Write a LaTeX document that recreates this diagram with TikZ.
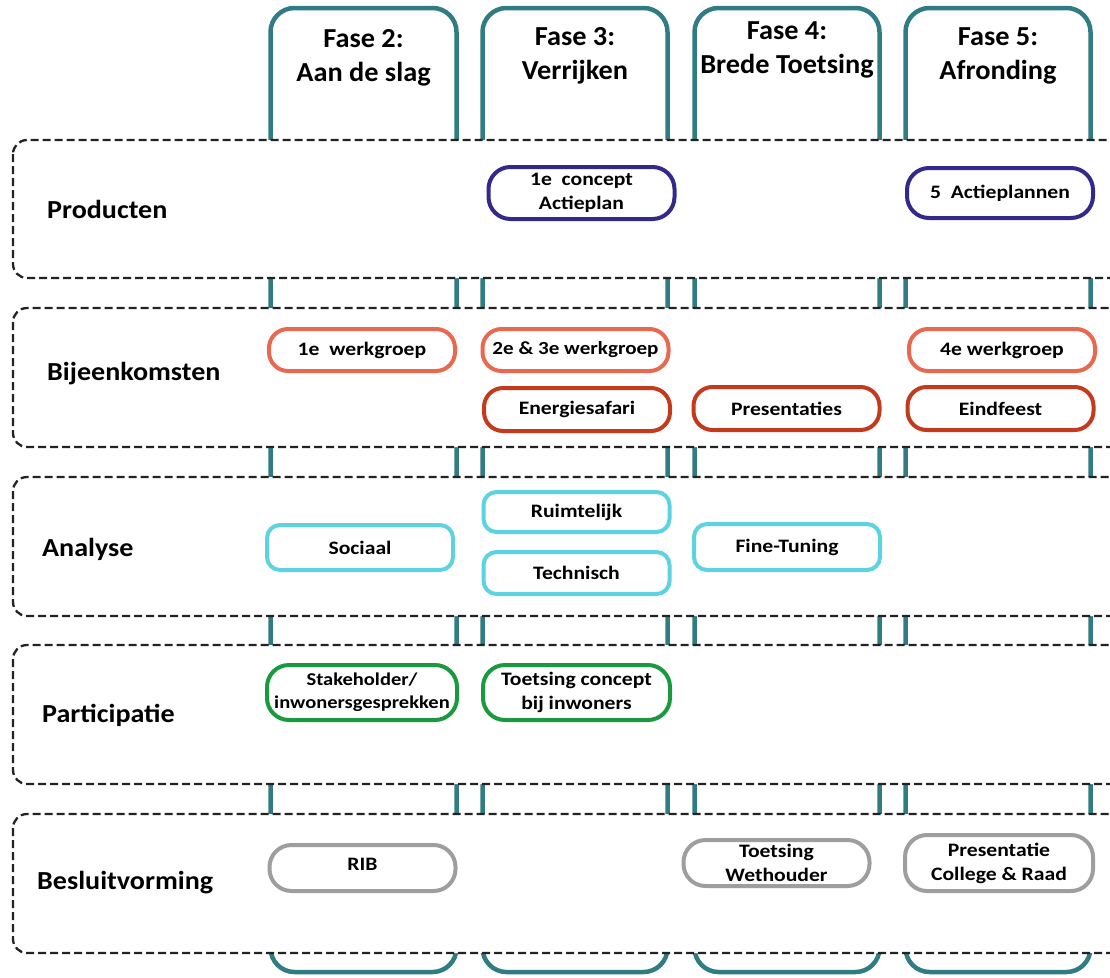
\documentclass[tikz,border=0pt]{standalone}
\usepackage{fontspec}
\setmainfont{Carlito}
\newfontfamily\boxfont[FakeStretch=1.14]{Carlito}
\newfontfamily\lblfont[FakeStretch=1.08]{Carlito}
\newfontfamily\phasefont[FakeStretch=1.03]{Carlito}
\definecolor{colTeal}{HTML}{2F7C83}
\definecolor{colNavy}{HTML}{33288C}
\definecolor{colSalmon}{HTML}{E8694F}
\definecolor{colRed}{HTML}{C53A1C}
\definecolor{colCyan}{HTML}{5DD2E2}
\definecolor{colGreen}{HTML}{1A9A3E}
\definecolor{colGrey}{HTML}{9E9E9E}
\definecolor{colDash}{HTML}{222222}
\begin{document}
\begin{tikzpicture}[x=1pt,y=-1pt,
  col/.style={draw=colTeal, line width=4.5pt, rounded corners=24pt},
  rowbox/.style={draw=colDash, fill=white, line width=2.3pt, dash pattern=on 8pt off 4pt, rounded corners=14pt},
  lbl/.style={anchor=west, font=\lblfont\bfseries\fontsize{26}{30}\selectfont, inner sep=0pt},
  phase/.style={align=center, font=\phasefont\bfseries\fontsize{27.5}{34}\selectfont, inner sep=0pt},
  box/.style={draw=#1, line width=4pt, fill=white, rounded corners=19pt, align=center, inner sep=0pt,
    font=\boxfont\bfseries\fontsize{19}{24}\selectfont, minimum width=186pt, minimum height=42pt},
]
\path[use as bounding box] (0,0) rectangle (1110,977);
\begin{scope}
\clip (0,0) rectangle (1110,977);
% phase columns
\draw[col] (270.5,8) rectangle (456.5,972);
\draw[col] (482.5,8) rectangle (667.5,972);
\draw[col] (694.5,8) rectangle (879.5,972);
\draw[col] (905.5,8) rectangle (1090.5,972);
% rows
\draw[rowbox] (13,140) rectangle (1140,278);
\draw[rowbox] (13,308) rectangle (1140,447);
\draw[rowbox] (13,477) rectangle (1140,616);
\draw[rowbox] (13,645) rectangle (1140,784);
\draw[rowbox] (13,814) rectangle (1140,953);
\end{scope}
% phase titles
\node[phase] (f2) at (363.5,58) {Fase 2:\\Aan de slag};
\node[phase] (f3) at (575,56) {Fase 3:\\Verrijken};
\node[phase] (f4) at (787,50) {Fase 4:\\Brede Toetsing};
\node[phase] (f5) at (998,56) {Fase 5:\\Afronding};
% row labels
\node[lbl] (lp) at (47,209) {Producten};
\node[lbl] (lb) at (47,374) {Bijeenkomsten};
\node[lbl] (la) at (42,549) {Analyse};
\node[lbl] (lpa) at (42,715) {Participatie};
\node[lbl] (lbv) at (37,883) {Besluitvorming};
% producten
\node[box=colNavy, minimum height=52pt, rounded corners=22pt] (c1) at (581.5,193) {1e\ \ concept\\Actieplan};
\node[box=colNavy, minimum height=50pt, rounded corners=22pt] (c5) at (1000,193) {5\ \ Actieplannen};
% bijeenkomsten
\node[box=colSalmon] (w1) at (362,350) {1e\ \ werkgroep};
\node[box=colSalmon] (w23) at (575.5,350) {\fontsize{18.5}{24}\selectfont 2e \& 3e werkgroep};
\node[box=colSalmon] (w4) at (1002,350) {4e werkgroep};
\node[box=colRed, minimum height=43pt] (en) at (577,409.5) {Energiesafari};
\node[box=colRed, minimum height=43pt] (pr) at (786.5,408.5) {Presentaties};
\node[box=colRed, minimum height=43pt] (ei) at (1000.5,408.5) {Eindfeest};
% analyse
\node[box=colCyan, rounded corners=13pt, minimum height=45pt] (so) at (360,547.5) {Sociaal};
\node[box=colCyan, rounded corners=13pt, minimum height=40pt] (ru) at (576.5,512) {Ruimtelijk};
\node[box=colCyan, rounded corners=13pt, minimum height=42pt] (te) at (576.5,573) {Technisch};
\node[box=colCyan, rounded corners=13pt, minimum height=46pt] (fi) at (787,547) {Fine-Tuning};
% participatie
\node[box=colGreen, minimum width=190pt, minimum height=55pt, rounded corners=22pt] (st) at (362,692.5) {\fontsize{18}{24}\selectfont Stakeholder/\\[-1pt]\fontsize{18}{24}\selectfont inwonersgesprekken};
\node[box=colGreen, minimum width=187pt, minimum height=55pt, rounded corners=22pt] (tc) at (576.5,692.5) {Toetsing concept\\bij inwoners};
% besluitvorming
\node[box=colGrey, minimum height=46pt, rounded corners=22pt] (rib) at (362.5,868) {};
\node[font=\boxfont\bfseries\fontsize{19}{24}\selectfont, inner sep=0pt] (ribt) at (rib.center) [yshift=4pt] {RIB};
\node[box=colGrey, minimum height=46pt, rounded corners=22pt] (we) at (776.5,863) {Toetsing\\Wethouder};
\node[box=colGrey, minimum width=188pt, minimum height=56pt, rounded corners=22pt] (pc) at (999,863) {Presentatie\\College \& Raad};
\end{tikzpicture}
\end{document}
